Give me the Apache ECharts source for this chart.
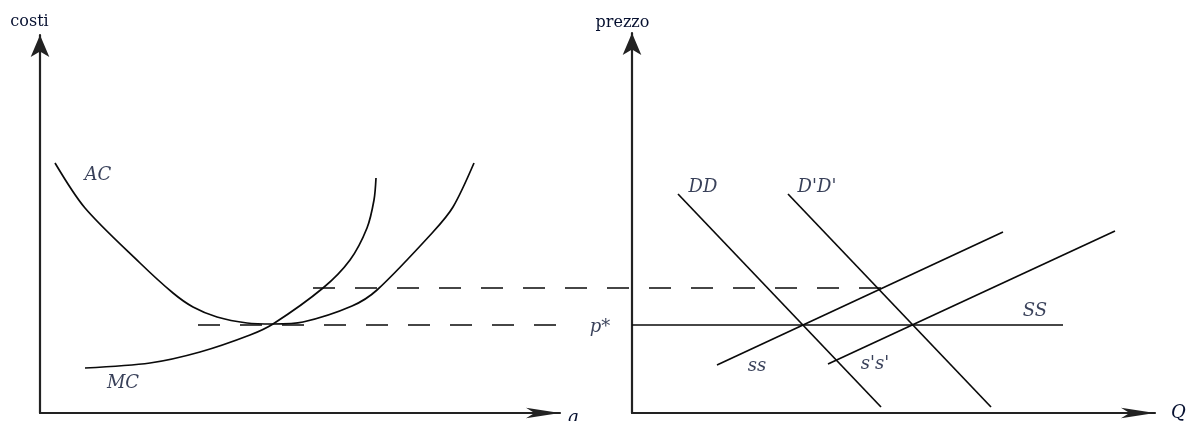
<!DOCTYPE html>
<html>
<head>
<meta charset="utf-8">
<script src="https://cdn.jsdelivr.net/npm/echarts@6/dist/echarts.min.js"></script>
<style>html,body{margin:0;padding:0;background:#fff}#c{width:1188px;height:421px}</style>
</head>
<body>
<div id="c"></div>
<script>
// ---- data (left panel: q vs costi; right panel: Q vs prezzo; overlay: guide lines spanning both) ----
var acCurve = [[1.5,25.0],[4.5,20.5],[10.0,15.0],[13.3,12.0],[15.3,10.6],[17.7,9.6],[20.7,9.0],[23.3,8.9],[26.3,9.1],[31.2,10.7],[33.7,12.3],[39.3,18.1],[41.3,20.6],[43.4,25.0]];
var mcCurve = [[4.5,4.5],[11.0,5.0],[16.0,6.1],[21.0,7.8],[23.3,8.9],[28.3,12.5],[31.0,15.3],[32.7,18.5],[33.4,21.3],[33.6,23.5]];
var pStar = 8.8;
var pHigh = 12.5;
var dashLow = [[15.8,pStar],[52.0,pStar]];
var dashHigh = [[27.3,pHigh],[85.0,pHigh]];
var ddLine = [[4.6,21.9],[24.9,0.6]];
var ddPrimeLine = [[15.6,21.9],[35.9,0.6]];
var ssLongRun = [[0,pStar],[43.1,pStar]];
var ssLine = [[8.5,4.8],[37.1,18.1]];
var ssPrimeLine = [[19.6,4.9],[48.3,18.2]];
var leftLabels = [['AC',[5.8,23.8]],['MC',[8.3,3.0]]];
var rightLabels = [['DD',[7.1,22.6]],["D'D'",[18.5,22.6]],['p*',[-3.2,8.6]],['ss',[12.5,4.7]],["s's'",[24.3,4.9]],['SS',[40.3,10.2]]];

var TXT = '#061030';
var LINE = '#0a0a0a';
function lineSeries(data, gi, dashed, smooth){
  return {type:'line', xAxisIndex:gi, yAxisIndex:gi, data:data, showSymbol:false, symbol:'none',
    smooth: smooth||false, clip:false, silent:true, animation:false,
    lineStyle:{color:LINE, width:1.7, type: dashed ? [22,20] : 'solid'}};
}
function labelSeries(list, gi){
  return {type:'scatter', xAxisIndex:gi, yAxisIndex:gi, symbolSize:0, clip:false, silent:true, animation:false,
    data: list.map(function(d){return {name:d[0], value:d[1]};}),
    label:{show:true, position:'inside', formatter:'{b}', color:TXT, fontFamily:'DejaVu Serif', fontStyle:'italic', fontSize:18}};
}
var axisLineY = {show:true, symbol:['none','arrow'], symbolSize:[14,22], lineStyle:{color:'#222', width:2.2}};
var axisLineX = {show:true, symbol:['none','arrow'], symbolSize:[8,34], lineStyle:{color:'#222', width:2.2}};
var hiddenAxis = {axisLine:{show:false}, axisTick:{show:false}, axisLabel:{show:false}, splitLine:{show:false}};
var nameFont = {color:TXT, fontFamily:'DejaVu Serif', fontSize:16};

var option = {
  backgroundColor:'#fff',
  animation:false,
  grid:[
    {left:40, top:35, width:520, height:378, outerBoundsMode:'none', containLabel:false},
    {left:632, top:33, width:523, height:380, outerBoundsMode:'none', containLabel:false},
    {left:40, top:35, width:1115, height:378, outerBoundsMode:'none', containLabel:false}
  ],
  xAxis:[
    {type:'value', gridIndex:0, min:0, max:52.0, axisLine:axisLineX, axisTick:{show:false}, axisLabel:{show:false}, splitLine:{show:false},
      name:'q', nameLocation:'end', nameGap:7, nameTextStyle:{color:TXT, fontFamily:'DejaVu Serif', fontStyle:'italic', fontSize:18, verticalAlign:'top', align:'left', lineHeight:10}},
    {type:'value', gridIndex:1, min:0, max:52.3, axisLine:axisLineX, axisTick:{show:false}, axisLabel:{show:false}, splitLine:{show:false},
      name:'Q', nameLocation:'end', nameGap:16, nameTextStyle:{color:TXT, fontFamily:'DejaVu Serif', fontStyle:'italic', fontSize:18, align:'left'}},
    Object.assign({type:'value', gridIndex:2, min:0, max:111.5}, hiddenAxis)
  ],
  yAxis:[
    {type:'value', gridIndex:0, min:0, max:37.8, axisLine:axisLineY, axisTick:{show:false}, axisLabel:{show:false}, splitLine:{show:false},
      name:'costi', nameLocation:'end', nameGap:5, nameTextStyle:Object.assign({align:'center', padding:[0,21,0,0]}, nameFont)},
    {type:'value', gridIndex:1, min:0, max:38.0, axisLine:axisLineY, axisTick:{show:false}, axisLabel:{show:false}, splitLine:{show:false},
      name:'prezzo', nameLocation:'end', nameGap:2, nameTextStyle:Object.assign({align:'center', padding:[0,19,0,0]}, nameFont)},
    Object.assign({type:'value', gridIndex:2, min:0, max:37.8}, hiddenAxis)
  ],
  series:[
    lineSeries(acCurve, 0, false, 0.3),
    lineSeries(mcCurve, 0, false, 0.3),
    lineSeries(dashLow, 2, true),
    lineSeries(dashHigh, 2, true),
    lineSeries(ddLine, 1, false),
    lineSeries(ddPrimeLine, 1, false),
    lineSeries(ssLongRun, 1, false),
    lineSeries(ssLine, 1, false),
    lineSeries(ssPrimeLine, 1, false),
    labelSeries(leftLabels, 0),
    labelSeries(rightLabels, 1)
  ]
};
var chart = echarts.init(document.getElementById('c'), null, {renderer:'canvas'});
chart.setOption(option);
</script>
</body>
</html>
